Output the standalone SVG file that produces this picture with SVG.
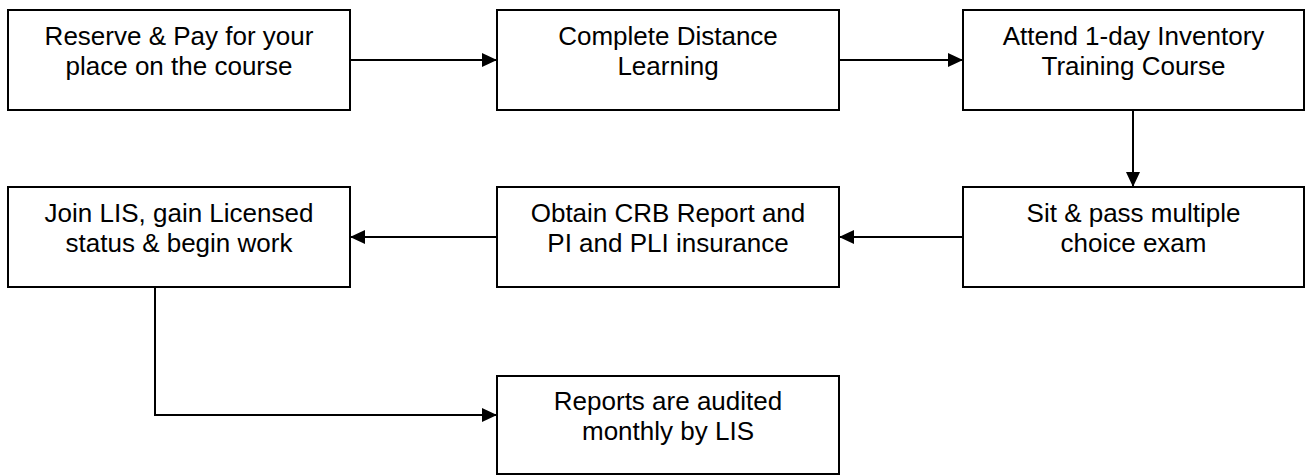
<svg xmlns="http://www.w3.org/2000/svg" width="1307" height="476" viewBox="0 0 1307 476">
<style>
.box{fill:#fff;stroke:#000;stroke-width:2}
.t{font-family:"Liberation Sans",Arial,sans-serif;font-size:26px;fill:#000;text-anchor:middle}
.c{fill:none;stroke:#000;stroke-width:2}
</style>
<defs>
<marker id="ah" markerWidth="15" markerHeight="14" refX="15" refY="7" orient="auto" markerUnits="userSpaceOnUse">
<path d="M0,0 L15,7 L0,14 Z" fill="#000"/>
</marker>
</defs>
<rect width="1307" height="476" fill="#fff"/>
<g id="connectors">
<path class="c" d="M350,60 H497" marker-end="url(#ah)"/>
<path class="c" d="M839,60 H963" marker-end="url(#ah)"/>
<path class="c" d="M1133,110 V187" marker-end="url(#ah)"/>
<path class="c" d="M963,237 H839" marker-end="url(#ah)"/>
<path class="c" d="M497,237 H350" marker-end="url(#ah)"/>
<path class="c" d="M155,287 V415 H497" marker-end="url(#ah)"/>
</g>
<g id="n1"><rect class="box" x="8" y="10" width="342" height="100"/><text class="t" x="179" y="45">Reserve &amp; Pay for your</text><text class="t" x="179" y="75">place on the course</text></g>
<g id="n2"><rect class="box" x="497" y="10" width="342" height="100"/><text class="t" x="668" y="45">Complete Distance</text><text class="t" x="668" y="75">Learning</text></g>
<g id="n3"><rect class="box" x="963" y="10" width="341" height="100"/><text class="t" x="1133.5" y="45">Attend 1-day Inventory</text><text class="t" x="1133.5" y="75">Training Course</text></g>
<g id="n4"><rect class="box" x="8" y="187" width="342" height="100"/><text class="t" x="179" y="222">Join LIS, gain Licensed</text><text class="t" x="179" y="252">status &amp; begin work</text></g>
<g id="n5"><rect class="box" x="497" y="187" width="342" height="100"/><text class="t" x="668" y="222">Obtain CRB Report and</text><text class="t" x="668" y="252">PI and PLI insurance</text></g>
<g id="n6"><rect class="box" x="963" y="187" width="341" height="100"/><text class="t" x="1133.5" y="222">Sit &amp; pass multiple</text><text class="t" x="1133.5" y="252">choice exam</text></g>
<g id="n7"><rect class="box" x="497" y="376" width="342" height="98"/><text class="t" x="668" y="410">Reports are audited</text><text class="t" x="668" y="440">monthly by LIS</text></g>
</svg>
